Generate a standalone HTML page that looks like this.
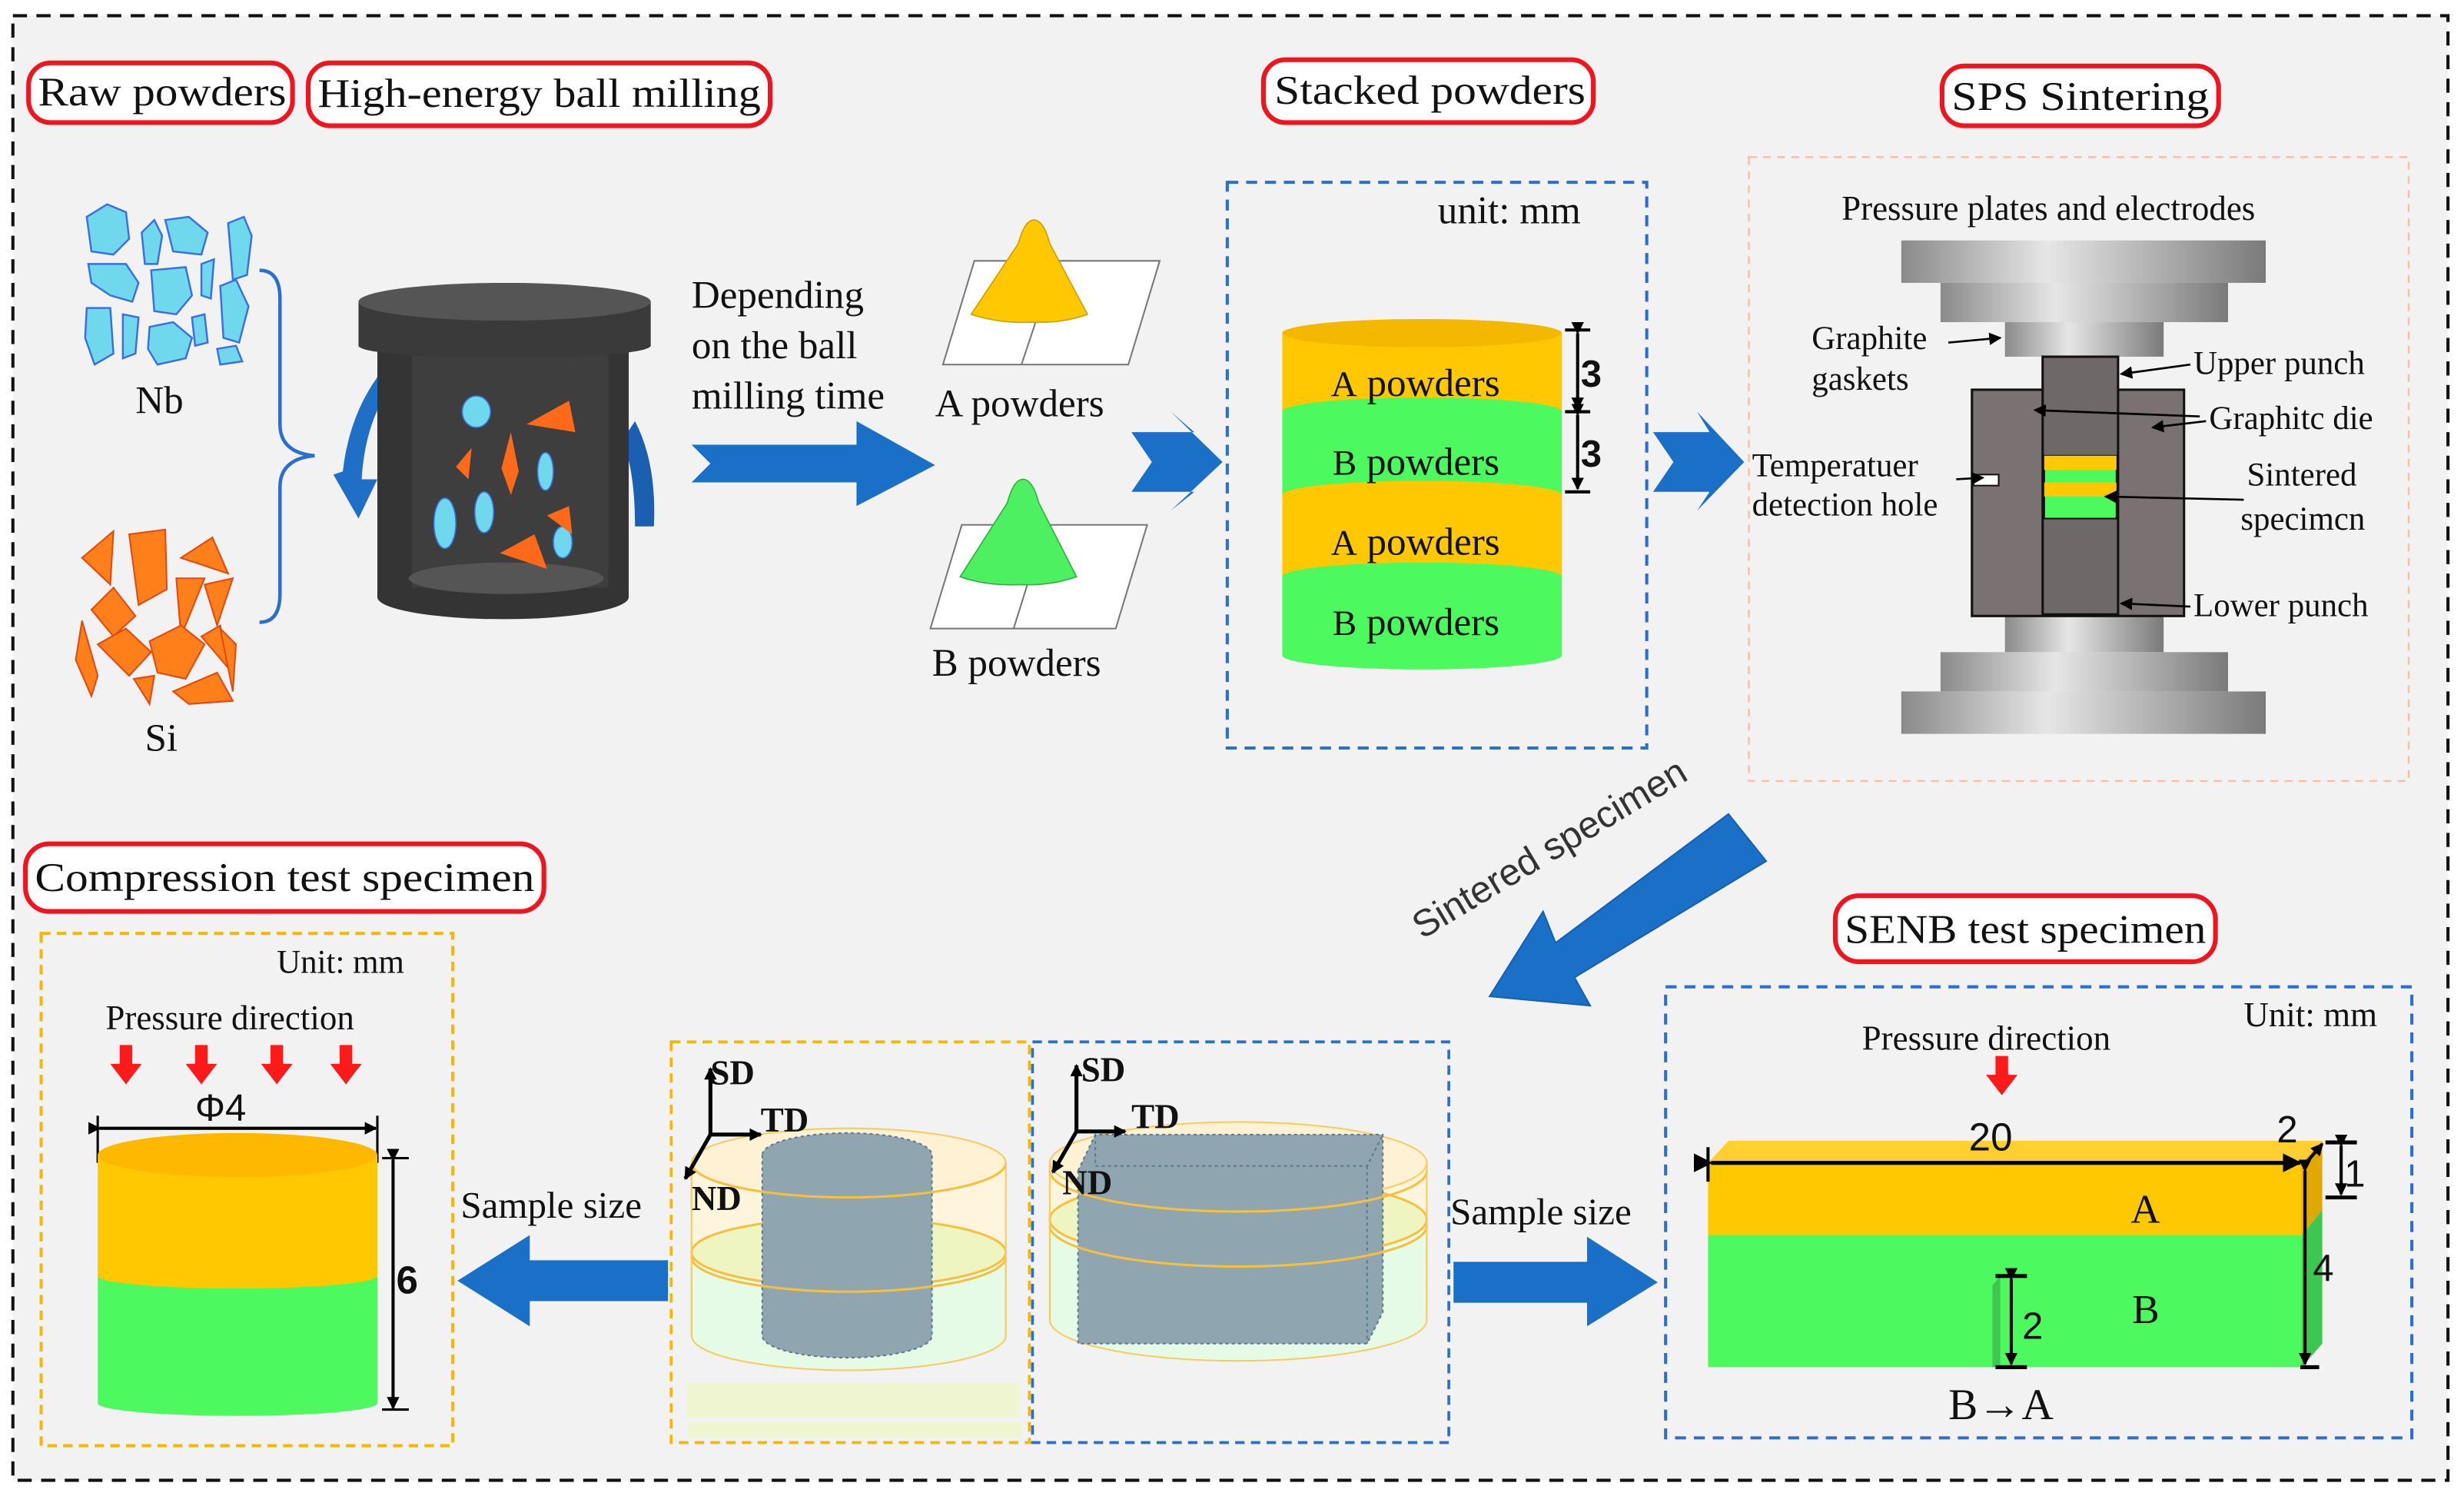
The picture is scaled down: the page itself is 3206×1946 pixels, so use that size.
<!DOCTYPE html>
<html><head><meta charset="utf-8"><style>
html,body{margin:0;padding:0;background:#fff;}
svg{display:block;}
text{font-family:"Liberation Serif",serif;fill:#111;}
.s{font-family:"Liberation Sans",sans-serif;}
</style></head><body>
<svg width="3206" height="1946" viewBox="0 0 1568 952" xmlns="http://www.w3.org/2000/svg">
<defs>
<linearGradient id="pg" x1="0" x2="1"><stop offset="0" stop-color="#8a8a8a"/><stop offset="0.4" stop-color="#e6e6e6"/><stop offset="1" stop-color="#7a7a7a"/></linearGradient>
<marker id="ah" markerWidth="8" markerHeight="8" refX="7" refY="4" orient="auto" markerUnits="userSpaceOnUse"><path d="M0,0 L8,4 L0,8 z" fill="#000"/></marker>
<marker id="ah2" markerWidth="12" markerHeight="12" refX="11" refY="6" orient="auto" markerUnits="userSpaceOnUse"><path d="M0,0 L12,6 L0,12 z" fill="#000"/></marker>
</defs>
<rect x="8" y="10" width="1550" height="932" fill="#f2f2f2" stroke="#111" stroke-width="2" stroke-dasharray="9,6"/>

<!-- title boxes -->
<g fill="#fff" stroke="#f0141e" stroke-width="3">
<rect x="18" y="40" width="168" height="38" rx="14"/>
<rect x="196" y="40" width="294" height="40" rx="14"/>
<rect x="804" y="38" width="210" height="40" rx="14"/>
<rect x="1236" y="42" width="176" height="38" rx="14"/>
<rect x="16" y="537" width="330" height="43" rx="15"/>
<rect x="1168" y="570" width="242" height="42" rx="15"/>
</g>
<g font-size="26">
<text x="24" y="67" textLength="158" lengthAdjust="spacingAndGlyphs">Raw powders</text>
<text x="202" y="68" textLength="282" lengthAdjust="spacingAndGlyphs">High-energy ball milling</text>
<text x="811" y="66" textLength="198" lengthAdjust="spacingAndGlyphs">Stacked powders</text>
<text x="1242" y="70" textLength="164" lengthAdjust="spacingAndGlyphs">SPS Sintering</text>
<text x="22" y="567" textLength="318" lengthAdjust="spacingAndGlyphs">Compression test specimen</text>
<text x="1174" y="600" textLength="230" lengthAdjust="spacingAndGlyphs">SENB test specimen</text>
</g>

<!-- Nb particles -->
<g fill="#6fd8ec" stroke="#3a6fe0" stroke-width="1.2">
<path d="M55,138 L68,130 L80,135 L82,152 L72,162 L58,160 Z"/>
<path d="M90,148 L98,140 L103,150 L100,168 L92,168 Z"/>
<path d="M105,140 L120,138 L132,148 L128,162 L110,160 Z"/>
<path d="M145,142 L155,138 L160,150 L157,175 L148,178 Z"/>
<path d="M56,168 L80,168 L88,180 L84,192 L70,188 L58,180 Z"/>
<path d="M96,172 L118,170 L122,188 L112,200 L98,198 Z"/>
<path d="M128,168 L136,165 L134,190 L128,188 Z"/>
<path d="M140,182 L150,178 L158,195 L152,218 L142,215 Z"/>
<path d="M55,196 L70,196 L72,225 L60,232 L54,215 Z"/>
<path d="M78,200 L88,202 L86,225 L78,228 Z"/>
<path d="M95,208 L110,205 L122,215 L118,228 L100,232 L94,222 Z"/>
<path d="M122,202 L130,200 L132,218 L124,220 Z"/>
<path d="M138,222 L150,220 L154,230 L140,232 Z"/>
</g>
<!-- Si particles -->
<g fill="#ff7f1a" stroke="#e04a10" stroke-width="1">
<path d="M52,355 L72,338 L70,372 Z"/>
<path d="M82,340 L105,337 L106,375 L88,385 Z"/>
<path d="M115,355 L135,342 L145,365 Z"/>
<path d="M112,368 L130,368 L115,405 Z"/>
<path d="M130,372 L148,368 L138,398 Z"/>
<path d="M58,388 L72,374 L86,392 L72,405 Z"/>
<path d="M62,410 L80,400 L96,415 L82,430 Z"/>
<path d="M52,395 L62,430 L58,443 L48,420 Z"/>
<path d="M95,408 L115,398 L130,410 L118,432 L100,428 Z"/>
<path d="M128,405 L140,398 L145,425 Z"/>
<path d="M85,432 L98,430 L95,448 Z"/>
<path d="M110,440 L138,428 L148,446 L120,448 Z"/>
<path d="M140,400 L150,410 L148,440 Z"/>
</g>
<text x="86" y="263" font-size="25">Nb</text>
<text x="92" y="478" font-size="25">Si</text>
<!-- brace -->
<path d="M165,172 Q178,172 178,190 L178,270 Q178,288 200,290 Q178,292 178,310 L178,378 Q178,396 165,396" fill="none" stroke="#2a6fd0" stroke-width="2.2"/>

<!-- Jar -->
<path d="M218,300 Q222,265 240,240 L246,250 Q232,272 230,305 L240,305 L228,330 L212,302 Z" fill="#1f6fc6"/>
<path d="M404,268 Q418,295 416,335 L404,335 Q404,300 396,280 Z" fill="#1a5fb0"/>
<rect x="240" y="208" width="160" height="172" fill="#343434"/>
<ellipse cx="320" cy="380" rx="80" ry="14" fill="#343434"/>
<rect x="262" y="226" width="125" height="148" fill="#3e3e3e"/>
<ellipse cx="322" cy="368" rx="62" ry="10" fill="#555"/>
<rect x="228" y="192" width="186" height="28" fill="#3a3a3a"/>
<ellipse cx="321" cy="192" rx="93" ry="12" fill="#555"/>
<ellipse cx="321" cy="220" rx="93" ry="8" fill="#3a3a3a"/>
<g fill="#6fd8ec" stroke="#3a6fe0" stroke-width="0.8">
<ellipse cx="303" cy="262" rx="9" ry="10"/><ellipse cx="347" cy="300" rx="5" ry="12"/>
<ellipse cx="283" cy="333" rx="7" ry="16"/><ellipse cx="308" cy="326" rx="6" ry="13"/><ellipse cx="358" cy="345" rx="6" ry="10"/>
</g>
<g fill="#ff6a1a">
<path d="M335,270 L362,255 L366,275 Z"/><path d="M290,297 L300,285 L298,305 Z"/>
<path d="M325,275 L330,300 L325,315 L319,298 Z"/><path d="M348,328 L362,322 L364,340 Z"/>
<path d="M318,352 L340,340 L348,362 Z"/>
</g>

<!-- Depending text and arrow -->
<g font-size="25"><text x="440" y="196">Depending</text><text x="440" y="228">on the ball</text><text x="440" y="260">milling time</text></g>
<path d="M440,283 L545,283 L545,268 L595,296 L545,322 L545,307 L440,307 L452,295 Z" fill="#1a6fc6"/>

<!-- cones -->
<path d="M600,232 L620,166 L738,166 L718,232 Z" fill="#fff" stroke="#777" stroke-width="1"/>
<line x1="660" y1="202" x2="650" y2="232" stroke="#777"/>
<path d="M658,140 Q664,140 668,155 L692,200 Q676,206 656,205 Q636,206 618,200 L648,155 Q652,140 658,140 Z" fill="#ffc800" stroke="#c9a000" stroke-width="0.8"/>
<text x="595" y="265" font-size="25">A powders</text>
<path d="M592,400 L612,334 L730,334 L710,400 Z" fill="#fff" stroke="#777" stroke-width="1"/>
<line x1="655" y1="368" x2="645" y2="400" stroke="#777"/>
<path d="M651,305 Q657,305 661,320 L685,367 Q668,373 648,372 Q628,373 611,367 L641,320 Q645,305 651,305 Z" fill="#4cf060" stroke="#30b040" stroke-width="0.8"/>
<text x="593" y="430" font-size="25">B powders</text>
<path d="M720,275 L760,275 L745,262 L778,294 L745,325 L760,313 L720,313 L733,294 Z" fill="#1a6fc6"/>

<!-- stacked -->
<rect x="781" y="116" width="267" height="360" fill="none" stroke="#2a6fd0" stroke-width="2" stroke-dasharray="7,5"/>
<text x="915" y="142" font-size="25">unit:  mm</text>
<rect x="816" y="365" width="178" height="52" fill="#4cfa60"/><ellipse cx="905" cy="417" rx="89" ry="9" fill="#4cfa60"/>
<rect x="816" y="315" width="178" height="52" fill="#ffc800"/><ellipse cx="905" cy="367" rx="89" ry="9" fill="#4cfa60"/>
<rect x="816" y="262" width="178" height="53" fill="#4cfa60"/><ellipse cx="905" cy="315" rx="89" ry="9" fill="#ffc800"/>
<rect x="816" y="212" width="178" height="50" fill="#ffc800"/><ellipse cx="905" cy="262" rx="89" ry="9" fill="#4cfa60"/>
<ellipse cx="905" cy="212" rx="89" ry="9" fill="#f5b800"/>
<g font-size="25"><text x="847" y="252"><tspan font-size="23">A</tspan> powders</text><text x="848" y="302"><tspan font-size="23">B</tspan> powders</text>
<text x="847" y="353"><tspan font-size="23">A</tspan> powders</text><text x="848" y="404"><tspan font-size="23">B</tspan> powders</text></g>
<g stroke="#000" stroke-width="2"><line x1="996" y1="210" x2="1012" y2="210"/><line x1="996" y1="262" x2="1012" y2="262"/><line x1="996" y1="313" x2="1012" y2="313"/>
<line x1="1004" y1="212" x2="1004" y2="260" marker-start="url(#ah)" marker-end="url(#ah)"/>
<line x1="1004" y1="264" x2="1004" y2="311" marker-start="url(#ah)" marker-end="url(#ah)"/></g>
<g class="s" font-size="24" font-weight="bold"><text x="1006" y="246" class="s">3</text><text x="1006" y="297" class="s">3</text></g>
<path d="M1052,275 L1088,275 L1080,262 L1110,294 L1080,325 L1088,313 L1052,313 L1065,294 Z" fill="#1a6fc6"/>

<!-- SPS -->
<rect x="1113" y="100" width="420" height="397" fill="none" stroke="#f8c0a0" stroke-width="1.2" stroke-dasharray="5,4"/>
<text x="1172" y="140" font-size="22">Pressure plates and electrodes</text>
<rect x="1210" y="153" width="232" height="27" fill="url(#pg)"/>
<rect x="1235" y="180" width="183" height="25" fill="url(#pg)"/>
<rect x="1276" y="205" width="101" height="22" fill="url(#pg)"/>
<rect x="1276" y="392" width="101" height="23" fill="url(#pg)"/>
<rect x="1235" y="415" width="183" height="25" fill="url(#pg)"/>
<rect x="1210" y="440" width="232" height="27" fill="url(#pg)"/>
<rect x="1255" y="248" width="135" height="144" fill="#7a7272" stroke="#111" stroke-width="1.5"/>
<rect x="1300" y="227" width="48" height="164" fill="#6e6868" stroke="#111" stroke-width="1.5"/>
<rect x="1301" y="290" width="46" height="40" fill="#4cfa60" stroke="#111" stroke-width="1"/>
<rect x="1301" y="290" width="46" height="9" fill="#ffc800"/><rect x="1301" y="307" width="46" height="9" fill="#ffc800"/>
<rect x="1256" y="302" width="16" height="7" fill="#fff" stroke="#111" stroke-width="1"/>
<g font-size="21">
<text x="1153" y="222">Graphite</text><text x="1153" y="248">gaskets</text>
<text x="1396" y="238">Upper punch</text><text x="1406" y="273">Graphitc die</text>
<text x="1430" y="309">Sintered</text><text x="1426" y="337">specimcn</text>
<text x="1115" y="303">Temperatuer</text><text x="1115" y="328">detection hole</text>
<text x="1396" y="392">Lower punch</text></g>
<g stroke="#000" stroke-width="1.3" fill="none">
<line x1="1240" y1="218" x2="1273" y2="215" marker-end="url(#ah)"/>
<line x1="1394" y1="232" x2="1350" y2="238" marker-end="url(#ah)"/>
<line x1="1400" y1="265" x2="1295" y2="261" marker-end="url(#ah)"/>
<line x1="1404" y1="268" x2="1370" y2="272" marker-end="url(#ah)"/>
<line x1="1428" y1="318" x2="1340" y2="316" marker-end="url(#ah)"/>
<line x1="1245" y1="305" x2="1262" y2="304" marker-end="url(#ah)"/>
<line x1="1394" y1="386" x2="1350" y2="384" marker-end="url(#ah)"/>
</g>

<!-- Sintered specimen arrow -->
<path d="M1100,518 L1124,548 L1002,622 L1012,640 L948,634 L982,580 L990,600 Z" fill="#1a6fc6" stroke="#1560b0"/>
<text x="905" y="598" font-size="24" class="s" fill="#333" transform="rotate(-31 905 598)" style="fill:#333">Sintered specimen</text>

<!-- compression -->
<rect x="26" y="594" width="262" height="326" fill="none" stroke="#f5b800" stroke-width="2" stroke-dasharray="6,4"/>
<text x="176" y="619" font-size="21">Unit: mm</text>
<text x="67" y="655" font-size="22">Pressure direction</text>
<g fill="#ff1a1a"><path d="M76,665 h8 v12 h6 l-10,13 l-10,-13 h6z"/><path d="M124,665 h8 v12 h6 l-10,13 l-10,-13 h6z"/><path d="M172,665 h8 v12 h6 l-10,13 l-10,-13 h6z"/><path d="M216,665 h8 v12 h6 l-10,13 l-10,-13 h6z"/></g>
<text x="124" y="713" font-size="24" class="s">Φ4</text>
<line x1="63" y1="718" x2="239" y2="718" stroke="#000" stroke-width="2" marker-start="url(#ah)" marker-end="url(#ah)"/>
<line x1="62" y1="710" x2="62" y2="740" stroke="#000" stroke-width="1.5"/><line x1="240" y1="710" x2="240" y2="740" stroke="#000" stroke-width="1.5"/>
<rect x="62" y="812" width="178" height="81" fill="#4cfa60"/><ellipse cx="151" cy="893" rx="89" ry="8" fill="#4cfa60"/>
<rect x="62" y="735" width="178" height="77" fill="#ffc800"/><ellipse cx="151" cy="812" rx="89" ry="8" fill="#ffc800"/>
<ellipse cx="151" cy="735" rx="89" ry="14" fill="#ffb800"/>
<line x1="250" y1="738" x2="250" y2="896" stroke="#000" stroke-width="2" marker-start="url(#ah)" marker-end="url(#ah)"/>
<line x1="243" y1="737" x2="260" y2="737" stroke="#000" stroke-width="1.5"/><line x1="243" y1="897" x2="260" y2="897" stroke="#000" stroke-width="1.5"/>
<text x="252" y="823" font-size="25" class="s" font-weight="bold">6</text>

<text x="293" y="775" font-size="24">Sample size</text>
<path d="M425,802 L337,802 L337,786 L291,815 L337,844 L337,828 L425,828 Z" fill="#1a6fc6"/>

<!-- middle boxes -->
<rect x="427" y="663" width="228" height="255" fill="none" stroke="#f5b800" stroke-width="1.8" stroke-dasharray="6,4"/>
<rect x="657" y="663" width="265" height="255" fill="none" stroke="#2a6fd0" stroke-width="1.8" stroke-dasharray="6,4"/>
<rect x="437" y="880" width="212" height="22" fill="#eef5d0"/>
<rect x="438" y="905" width="212" height="10" fill="#eef5d0"/>
<!-- cyl1 -->
<path d="M440,740 L440,850 A100,22 0 0 0 640,850 L640,740 Z" fill="#e6fbe6" stroke="#f5cc60"/>
<path d="M440,740 L440,797 A100,22 0 0 0 640,797 L640,740 Z" fill="#fff5dc" />
<ellipse cx="540" cy="797" rx="100" ry="22" fill="#eef5c0" stroke="#f5c040" stroke-width="1.5"/>
<ellipse cx="540" cy="740" rx="100" ry="22" fill="#fff2d4" stroke="#f5cc60"/>
<path d="M485,735 L485,850 A54,14 0 0 0 593,850 L593,735 A54,14 0 0 0 485,735 Z" fill="#8fa5b0" stroke="#5a7a90" stroke-dasharray="2,2"/>
<path d="M440,740 A100,22 0 0 0 640,740" fill="none" stroke="#f5c040" stroke-width="1.5"/>
<path d="M440,800 A100,22 0 0 0 640,800" fill="none" stroke="#f5c040" stroke-width="1.5"/>
<path d="M440,740 L440,850 M640,740 L640,850" stroke="#f5cc60"/>
<!-- cyl2 -->
<path d="M668,740 L668,840 A120,26 0 0 0 908,840 L908,740 Z" fill="#e6fbe6" stroke="#f5cc60"/>
<path d="M668,740 L668,776 A120,26 0 0 0 908,776 L908,740 Z" fill="#fff5dc"/>
<ellipse cx="788" cy="776" rx="120" ry="26" fill="#eef5c0" stroke="#f5c040" stroke-width="1.5"/>
<ellipse cx="788" cy="740" rx="120" ry="26" fill="#fff2d4" stroke="#f5cc60"/>
<path d="M686,745 L697,722 L880,722 L880,835 L870,855 L686,855 Z" fill="#8fa5b0" stroke="#5a7a90" stroke-dasharray="2,2"/>
<path d="M697,722 L697,742 L870,742 L880,722 M870,742 L870,855" fill="none" stroke="#5a7a90" stroke-dasharray="2,2"/>
<path d="M668,745 A120,26 0 0 0 908,745" fill="none" stroke="#f5c040" stroke-width="1.5"/>
<path d="M668,780 A120,26 0 0 0 908,780" fill="none" stroke="#f5c040" stroke-width="1.5"/>
<path d="M668,740 L668,840 M908,740 L908,840" stroke="#f5cc60"/>
<!-- axes -->
<g stroke="#000" stroke-width="2.5" fill="none">
<line x1="452" y1="722" x2="452" y2="680" marker-end="url(#ah)"/><line x1="452" y1="722" x2="484" y2="722" marker-end="url(#ah)"/><line x1="452" y1="722" x2="436" y2="750" marker-end="url(#ah)"/>
<line x1="685" y1="720" x2="685" y2="678" marker-end="url(#ah)"/><line x1="685" y1="720" x2="716" y2="720" marker-end="url(#ah)"/><line x1="685" y1="720" x2="670" y2="746" marker-end="url(#ah)"/>
</g>
<g font-size="22" font-weight="bold"><text x="452" y="690">SD</text><text x="484" y="720">TD</text><text x="440" y="770">ND</text>
<text x="688" y="688">SD</text><text x="720" y="718">TD</text><text x="676" y="760">ND</text></g>

<text x="923" y="779" font-size="24">Sample size</text>
<path d="M925,803 L1010,803 L1010,787 L1055,816 L1010,844 L1010,829 L925,829 Z" fill="#1a6fc6"/>

<!-- SENB -->
<rect x="1060" y="628" width="475" height="287" fill="none" stroke="#2a6fd0" stroke-width="2" stroke-dasharray="7,5"/>
<text x="1428" y="653" font-size="22">Unit: mm</text>
<text x="1185" y="668" font-size="22">Pressure direction</text>
<path d="M1270,672 h8 v12 h6 l-10,13 l-10,-13 h6z" fill="#ff1a1a"/>
<path d="M1087,740 L1100,726 L1478,726 L1465,740 Z" fill="#ffd030"/>
<rect x="1087" y="740" width="378" height="46" fill="#ffc800"/>
<rect x="1087" y="786" width="378" height="84" fill="#4cfa60"/>
<path d="M1465,740 L1478,726 L1478,770 L1465,786 Z" fill="#e0a800"/>
<path d="M1465,786 L1478,770 L1478,855 L1465,870 Z" fill="#3cc850"/>
<path d="M1268,870 L1268,818 L1273,812 L1273,870 Z" fill="#3cc850"/>
<line x1="1089" y1="740" x2="1464" y2="740" stroke="#000" stroke-width="2.5" marker-start="url(#ah2)" marker-end="url(#ah2)"/>
<line x1="1087" y1="730" x2="1087" y2="752" stroke="#000" stroke-width="2"/>
<text x="1253" y="732" font-size="25" class="s">20</text>
<text x="1449" y="727" font-size="24" class="s">2</text>
<line x1="1466" y1="742" x2="1478" y2="728" stroke="#000" stroke-width="2" marker-end="url(#ah)"/>
<g stroke="#000" stroke-width="2.5"><line x1="1480" y1="727" x2="1500" y2="727"/><line x1="1480" y1="762" x2="1500" y2="762"/><line x1="1464" y1="870" x2="1476" y2="870"/>
<line x1="1270" y1="812" x2="1290" y2="812"/><line x1="1270" y1="870" x2="1290" y2="870"/></g>
<g stroke="#000" stroke-width="2">
<line x1="1490" y1="729" x2="1490" y2="760" marker-start="url(#ah)" marker-end="url(#ah)"/>
<line x1="1467" y1="745" x2="1467" y2="868" marker-start="url(#ah)" marker-end="url(#ah)"/>
<line x1="1280" y1="814" x2="1280" y2="868" marker-start="url(#ah)" marker-end="url(#ah)"/></g>
<g class="s" font-size="24"><text x="1492" y="755" class="s">1</text><text x="1472" y="815" class="s">4</text><text x="1287" y="852" class="s">2</text></g>
<text x="1356" y="778" font-size="26">A</text>
<text x="1357" y="842" font-size="26">B</text>
<text x="1240" y="903" font-size="28">B→A</text>
</svg>
</body></html>
